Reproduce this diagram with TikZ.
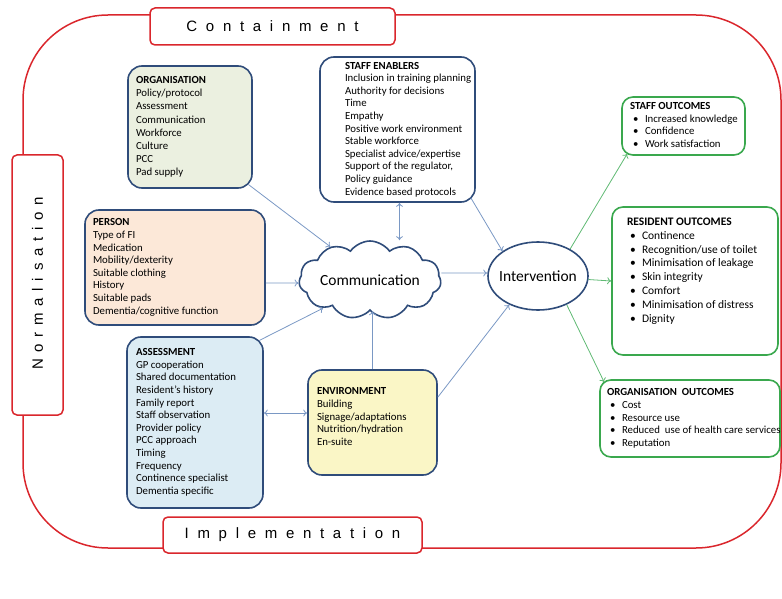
\documentclass[tikz,border=0pt]{standalone}
\usepackage{fontspec}
\setmainfont{Carlito}
\newfontfamily\framefont[LetterSpace=58]{Liberation Sans}
\usetikzlibrary{shapes.geometric}
\usetikzlibrary{shapes.symbols}
\usetikzlibrary{arrows.meta}

\definecolor{boxblue}{RGB}{47,76,122}
\definecolor{orgfill}{RGB}{235,240,224}
\definecolor{personfill}{RGB}{252,232,216}
\definecolor{assessfill}{RGB}{220,236,244}
\definecolor{envfill}{RGB}{250,246,198}
\definecolor{linkblue}{RGB}{122,152,196}
\definecolor{outgreen}{RGB}{58,168,78}
\definecolor{linkgreen}{RGB}{96,186,116}
\definecolor{framered}{RGB}{218,38,44}

\newcommand{\boxlines}[3]{\hspace*{#1}\makebox[#2][l]{\begin{tabular}{@{}l@{}}#3\end{tabular}}}
\newcommand{\blt}{\hspace*{3pt}\makebox[12pt][l]{\textbullet}}

\tikzset{
  factor/.style={draw=boxblue, line width=1.6pt, rounded corners=14pt, inner sep=0pt,
                 font=\fontsize{10.8}{12.6}\selectfont},
  outcome/.style={draw=outgreen, line width=1.6pt, rounded corners=11pt, inner sep=0pt,
                  fill=white, font=\fontsize{10.8}{12.6}\selectfont},
  phase/.style={draw=framered, line width=1.5pt, rounded corners=5pt, fill=white,
                inner sep=0pt, font=\framefont\fontsize{15}{18}\selectfont},
  bigtext/.style={font=\fontsize{15.5}{18}\selectfont},
  link/.style={draw=linkblue, line width=0.8pt, ->},
  glink/.style={draw=linkgreen, line width=0.8pt, ->},
}

\begin{document}
\begin{tikzpicture}[x=1pt,y=-1pt,>={To[length=4pt,width=7pt]}]

            %\draw [help lines, step=50] (0,0) grid (782,599);
            \useasboundingbox (0,0) rectangle (782,599);

            \draw [framered, line width=1.5pt, rounded corners=85pt] (23,15) rectangle (781,548);

            \path   (272.5,26.5) node (contain) [phase, minimum width=245, minimum height=37] {Containment}
                    (37.5,285) node (normal) [phase, rotate=90, minimum width=260, minimum height=51] {\addfontfeature{LetterSpace=45}\hspace*{3pt}Normalisation}
                    (292.5,535) node (implement) [phase, minimum width=259, minimum height=36] {Implementation};

            \path   (190,127) node (org) [factor, fill=orgfill, minimum width=124, minimum height=122,
                        font=\fontsize{10.8}{13.2}\selectfont]
                        {\boxlines{8pt}{116pt}{\textbf{ORGANISATION}\\ Policy/protocol\\ Assessment\\ Communication\\ Workforce\\ Culture\\ PCC\\ Pad supply}}
                    (175,267.5) node (person) [factor, fill=personfill, minimum width=180, minimum height=115]
                        {\boxlines{8pt}{172pt}{\textbf{PERSON}\\ Type of FI\\ Medication\\ Mobility/dexterity\\ Suitable clothing\\ History\\ Suitable pads\\ Dementia/cognitive function}}
                    (195,422.5) node (assess) [factor, fill=assessfill, minimum width=136, minimum height=171]
                        {\boxlines{9pt}{127pt}{\textbf{ASSESSMENT}\\ GP cooperation\\ Shared documentation\\ Resident’s history\\ Family report\\ Staff observation\\ Provider policy\\ PCC approach\\ Timing\\ Frequency\\ Continence specialist\\ Dementia specific}}
                    (397.5,129.5) node (enablers) [factor, fill=white, minimum width=155, minimum height=145]
                        {\boxlines{25pt}{130pt}{\textbf{STAFF ENABLERS}\\ Inclusion in training planning\\ Authority for decisions\\ Time\\ Empathy\\ Positive work environment\\ Stable workforce\\ Specialist advice/expertise\\ Support of the regulator,\\ Policy guidance\\ Evidence based protocols}}
                    (372.5,422.5) node (env) [factor, fill=envfill, minimum width=129, minimum height=105]
                        {\boxlines{9pt}{120pt}{\textbf{ENVIRONMENT}\\ Building\\ Signage/adaptations\\ Nutrition/hydration\\ En-suite\\[-2.6pt] ~}};

            \path   (370,280) node (comm) [cloud, cloud puffs=11, cloud puff arc=110, cloud ignores aspect,
                        draw=boxblue, line width=1.6pt, fill=white, minimum width=142, minimum height=78,
                        label={[bigtext]center:Communication}] {}
                    (538,276) node (interv) [ellipse, draw=boxblue, line width=1.6pt, fill=white,
                        minimum width=100, minimum height=68, label={[bigtext]center:Intervention}] {};

            \path   (683.5,126) node (staffout) [outcome, minimum width=123, minimum height=58]
                        {\boxlines{8pt}{115pt}{\textbf{STAFF OUTCOMES}\\ \blt Increased knowledge\\ \blt Confidence\\ \blt Work satisfaction}}
                    (695,281) node (resout) [outcome, minimum width=166, minimum height=148,
                        font=\fontsize{11.5}{13.8}\selectfont]
                        {\boxlines{15pt}{151pt}{\textbf{RESIDENT OUTCOMES}\\ \blt Continence\\ \blt Recognition/use of toilet\\ \blt Minimisation of leakage\\ \blt Skin integrity\\ \blt Comfort\\ \blt Minimisation of distress\\ \blt Dignity\\[6.2pt] ~}}
                    (690,418.5) node (orgout) [outcome, minimum width=180, minimum height=77]
                        {\boxlines{7pt}{173pt}{\textbf{ORGANISATION\ \ OUTCOMES}\\ \blt Cost\\ \blt Resource use\\ \blt Reduced\ \ use of health care services\\ \blt Reputation}};

            \draw[link] ([shift={(-4,-4)}]org.south east) -- (comm.140);
            \draw[link] ([yshift=-15.5pt]person.east) -- ([yshift=-3pt]comm.west);
            \draw[link] ([shift={(-4,4)}]assess.north east) -- (comm.211);
            \draw[link, <->] ([yshift=9.5pt]assess.east) -- ([yshift=9.5pt]env.west);
            \draw[link] (env.north) -- (env.north |- comm.south);
            \draw[link, <->] ([xshift=2pt]enablers.south) -- ([xshift=2pt]enablers.south |- comm.north);
            \draw[link] ([shift={(-5,-5)}]enablers.south east) -- (interv.145);
            \draw[link] ([yshift=7pt]comm.east) -- ([yshift=3pt]interv.west);
            \draw[link] ([yshift=-28pt]env.north east) -- (interv.225);

            \draw[glink] (interv.40) -- ([shift={(6,-2)}]staffout.south west);
            \draw[glink] (interv.-4) -- (resout.west);
            \draw[glink] (interv.-45) -- ([shift={(5,3)}]orgout.north west);
        \end{tikzpicture}
\end{document}
